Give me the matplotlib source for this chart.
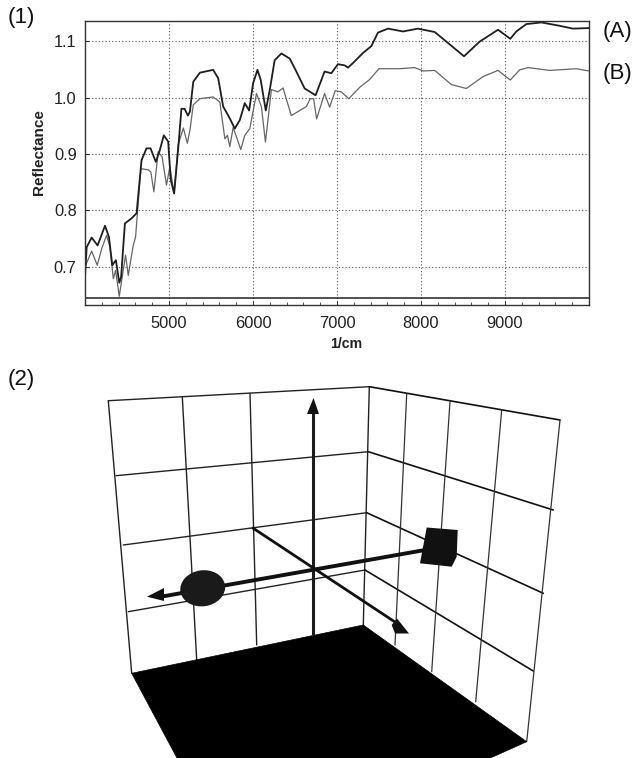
import matplotlib
matplotlib.use("Agg")
import matplotlib.pyplot as plt
from matplotlib.patches import Polygon, Ellipse
from matplotlib.ticker import MultipleLocator

plt.rcParams['font.family'] = ['Liberation Sans', 'DejaVu Sans']

# ---- spectrum data
a_wavenumber = [4000,4020,4079,4150,4238,4285,4325,4368,4408,4430,4475,4554,4614,4673,4732,4780,4843,4891,4938,4990,5021,5061,5108,5148,5185,5225,5249,5289,5368,5526,5586,5645,5724,5783,5843,5902,5954,6001,6053,6092,6152,6199,6258,6338,6437,6516,6615,6745,6852,6932,7011,7090,7131,7190,7310,7409,7488,7607,7786,7964,8163,8302,8512,8698,8917,9063,9135,9254,9432,9651,9809,10000]
a_reflectance = [0.682,0.735,0.752,0.738,0.773,0.753,0.703,0.712,0.672,0.682,0.777,0.786,0.795,0.889,0.910,0.910,0.886,0.907,0.933,0.922,0.854,0.830,0.907,0.98,0.98,0.968,0.975,1.028,1.044,1.049,1.034,0.984,0.963,0.945,0.96,0.99,0.977,1.025,1.049,1.031,0.977,1.013,1.066,1.078,1.069,1.046,1.016,1.004,1.046,1.043,1.059,1.057,1.053,1.061,1.079,1.091,1.115,1.122,1.117,1.122,1.116,1.099,1.073,1.099,1.12,1.104,1.117,1.13,1.133,1.127,1.122,1.123]
b_wavenumber = [4000,4079,4146,4200,4257,4297,4337,4364,4408,4483,4515,4574,4602,4665,4752,4784,4820,4871,4918,4970,5010,5061,5108,5171,5218,5249,5289,5368,5526,5605,5665,5696,5724,5764,5855,5902,5962,6041,6100,6148,6219,6298,6357,6456,6635,6682,6722,6757,6852,6912,6979,7050,7141,7270,7389,7500,7746,7925,8024,8163,8361,8540,8738,8917,9063,9175,9274,9532,9849,10000]
b_reflectance = [0.70,0.728,0.703,0.733,0.756,0.735,0.679,0.694,0.648,0.721,0.685,0.738,0.753,0.874,0.872,0.868,0.833,0.904,0.895,0.845,0.877,0.830,0.916,0.946,0.919,0.942,0.987,0.998,1.001,0.992,0.927,0.933,0.913,0.947,0.908,0.933,0.945,1.007,0.984,0.921,1.014,1.01,1.017,0.968,0.984,0.998,0.998,0.962,1.007,0.983,1.012,1.01,0.998,1.018,1.032,1.051,1.051,1.053,1.047,1.048,1.023,1.016,1.037,1.048,1.031,1.049,1.053,1.048,1.051,1.047]
baseline_value = 0.645
x_ticks = [5000,6000,7000,8000,9000]
y_ticks = [0.7,0.8,0.9,1.0,1.1]

# ---- 3D scene outline, in picture units
left_rows = [((108.3,400.7),(369.3,386.7)),((116,475.7),(368.3,451.7)),((123.3,545),(366.7,512.7)),((128.3,611.7),(365,570))]
left_cols = [((108.3,400.7),(131.7,673.3)),((182.3,396.7),(196.7,660)),((250,393.3),(256.7,645)),((369.3,386.7),(363.3,625))]
right_rows = [((369.3,386.7),(560,420)),((368.3,451.7),(553.3,510)),((366.7,512.7),(543.3,593.3)),((365,570),(533.3,671))]
right_cols = [((406.7,394),(395,645)),((450,401.7),(431.7,671.7)),((501.7,410),(475.7,701.7)),((560,420),(526.7,741.7))]
floor_outline = [(131.7,673.3),(363.3,625),(526.7,741.7),(493.3,756.7),(490,758),(177,758)]
axis_z = ((313.3,633),(313.3,405))
axis_x = ((425,550),(165,596))
axis_y = ((253.3,528.3),(398,624))
head_z = [(313.5,398),(307,414),(319,414)]
head_x = [(147,596.7),(164,588),(164,601)]
head_y = [(391.7,625),(397,618.5),(409,633.5),(395,633.5)]
cube_outline = [(426.7,527.5),(457.7,530),(456.7,556.7),(451.7,566.7),(420,563.3)]
sphere = (202.7,588.3,45,36)

fig = plt.figure(figsize=(6.35,7.58), dpi=100)
W, H = 635, 758

# ---- lower panel
bg = fig.add_axes([0,0,1,1])
bg.set_xlim(0,W); bg.set_ylim(H,0); bg.axis('off')
for seg in left_rows+left_cols:
    bg.plot(*zip(*seg), color='#222222', lw=1.0, solid_capstyle='round')
for seg in right_rows:
    bg.plot(*zip(*seg), color='#111111', lw=1.2, solid_capstyle='round')
for seg in right_cols:
    bg.plot(*zip(*seg), color='#333333', lw=0.9, solid_capstyle='round')
bg.add_patch(Polygon(floor_outline, closed=True, fc='black', ec='black', lw=0.5, zorder=3))
bg.plot(*zip(*axis_z), color='#1c1c1c', lw=2.2, zorder=4)
bg.plot(*zip(*axis_y), color='#111111', lw=2.0, zorder=4)
bg.plot(*zip(*axis_x), color='#111111', lw=2.8, zorder=4)
for hd in (head_z, head_x, head_y):
    bg.add_patch(Polygon(hd, closed=True, fc='#111111', ec='none', zorder=5))
bg.add_patch(Polygon(cube_outline, closed=True, fc='#111111', ec='none', zorder=5))
bg.add_patch(Ellipse(sphere[:2], sphere[2], sphere[3], angle=-8, fc='#1a1a1a', ec='none', zorder=5))

# ---- upper panel
L, R, T, B = 85, 589, 21, 305
ax = fig.add_axes([L/W, 1-B/H, (R-L)/W, (B-T)/H])
ax.set_xlim(4000,10000); ax.set_ylim(0.6326,1.1355)
ax.grid(True, which='major', color='#555555', lw=0.8, ls=(0,(1,2)))
ax.set_axisbelow(True)
ax.axhline(baseline_value, color='#222222', lw=1.1)
ax.plot(b_wavenumber, b_reflectance, color='#666666', lw=0.9)
ax.plot(a_wavenumber, a_reflectance, color='#1e1e1e', lw=1.3)
ax.set_xticks(x_ticks); ax.set_yticks(y_ticks)
ax.set_yticklabels([f"{v:.1f}" for v in y_ticks])
ax.xaxis.set_minor_locator(MultipleLocator(200))
ax.tick_params(axis='both', which='major', labelsize=11.8, length=3, direction='in', width=0.7, color='#333333', labelcolor='#222222')
ax.tick_params(axis='x', which='major', pad=8)
ax.tick_params(axis='y', which='major', pad=6)
ax.tick_params(axis='x', which='minor', length=2, direction='in', width=0.6, color='#333333')
for s in ax.spines.values():
    s.set_linewidth(1.0); s.set_color('#333333')
fig.text(39/W, 1-152/H, 'Reflectance', rotation=90, fontsize=11, fontweight='bold', ha='center', va='center', color='#222222')
fig.text(346/W, 1-344/H, '1/cm', fontsize=10.2, fontweight='bold', ha='center', va='center', color='#222222')

for s, x, y in [('(1)',8,17),('(2)',8,380),('(A)',603,32),('(B)',603,73)]:
    fig.text(x/W, 1-y/H, s, fontsize=16, ha='left', va='center', color='#111111')

fig.savefig('out.png', dpi=100)
